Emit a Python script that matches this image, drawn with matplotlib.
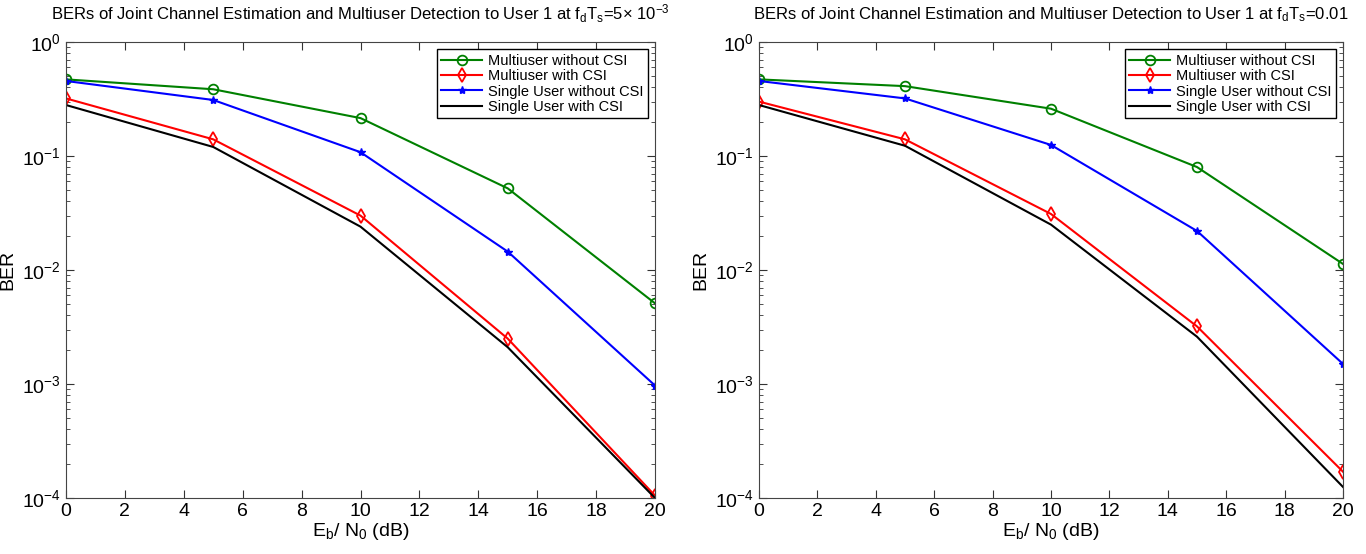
import numpy as np
import matplotlib
matplotlib.use('Agg')
import matplotlib.pyplot as plt
from matplotlib.ticker import LogLocator, NullFormatter

plt.rcParams['font.family'] = ['Liberation Sans', 'DejaVu Sans']
plt.rcParams['mathtext.fontset'] = 'custom'
plt.rcParams['mathtext.rm'] = 'Liberation Sans'
plt.rcParams['mathtext.it'] = 'Liberation Sans'
plt.rcParams['mathtext.default'] = 'regular'

# Eb/N0 (dB)
snr = [0, 5, 10, 15, 20]

# fdTs = 5e-3
mu_nocsi_a = [0.47, 0.385, 0.215, 0.052, 0.0051]
mu_csi_a = [0.32, 0.14, 0.030, 0.0025, 0.000105]
su_nocsi_a = [0.455, 0.31, 0.108, 0.0145, 0.00097]
su_csi_a = [0.28, 0.12, 0.024, 0.0021, 0.0001]

# fdTs = 0.01
mu_nocsi_b = [0.47, 0.41, 0.26, 0.08, 0.0113]
mu_csi_b = [0.30, 0.14, 0.031, 0.0032, 0.00017]
su_nocsi_b = [0.455, 0.32, 0.125, 0.022, 0.0015]
su_csi_b = [0.28, 0.123, 0.025, 0.0026, 0.000125]

titles = [r'BERs of Joint Channel Estimation and Multiuser Detection to User 1 at f$_d$T$_s$=5× 10$^{-3}$',
          r'BERs of Joint Channel Estimation and Multiuser Detection to User 1 at f$_d$T$_s$=0.01']
labels = ['Multiuser without CSI', 'Multiuser with CSI', 'Single User without CSI', 'Single User with CSI']

fig = plt.figure(figsize=(13.66, 5.54), dpi=100)
ax1 = fig.add_axes([66/1366, 56/554, 589/1366, 456/554])
ax2 = fig.add_axes([759/1366, 56/554, 584/1366, 456/554])

data = [(mu_nocsi_a, mu_csi_a, su_nocsi_a, su_csi_a),
        (mu_nocsi_b, mu_csi_b, su_nocsi_b, su_csi_b)]

for ax, d, t in zip([ax1, ax2], data, titles):
    ax.semilogy(snr, d[0], color='#008000', marker='o', mfc='none', ms=7, mew=1.3, lw=1.5, label=labels[0])
    ax.semilogy(snr, d[1], color='#ff0000', marker='d', mfc='none', ms=7, mew=1.3, lw=1.5, label=labels[1])
    ax.semilogy(snr, d[2], color='#0000ff', marker='*', ms=6, lw=1.5, label=labels[2])
    ax.semilogy(snr, d[3], color='black', lw=1.5, label=labels[3])
    ax.set_xlim(0, 20)
    ax.set_ylim(1e-4, 1)
    ax.set_xticks(range(0, 21, 2))
    ax.yaxis.set_major_locator(LogLocator(base=10, numticks=10))
    ax.yaxis.set_minor_locator(LogLocator(base=10, subs=np.arange(2, 10), numticks=10))
    ax.yaxis.set_minor_formatter(NullFormatter())
    ax.tick_params(which='both', direction='in', top=True, right=True, labelsize=14, colors='#333333')
    ax.tick_params(which='major', length=6)
    ax.tick_params(which='minor', length=3)
    for sp in ax.spines.values():
        sp.set_color('#444444')
    ax.tick_params(axis='both', labelcolor='black')
    ax.set_title(t, fontsize=12, pad=16)
    ax.set_xlabel(r'E$_b$/ N$_0$ (dB)', fontsize=14, labelpad=1)
    ax.set_ylabel('BER', fontsize=14, labelpad=4)
    leg = ax.legend(loc='upper right', fontsize=10.5, fancybox=False, framealpha=1,
                    edgecolor='black', borderaxespad=0.5, handlelength=2.8,
                    labelspacing=0.1, borderpad=0.3, handletextpad=0.4)
    leg.get_frame().set_linewidth(1.0)

fig.savefig('out.png', dpi=100)
